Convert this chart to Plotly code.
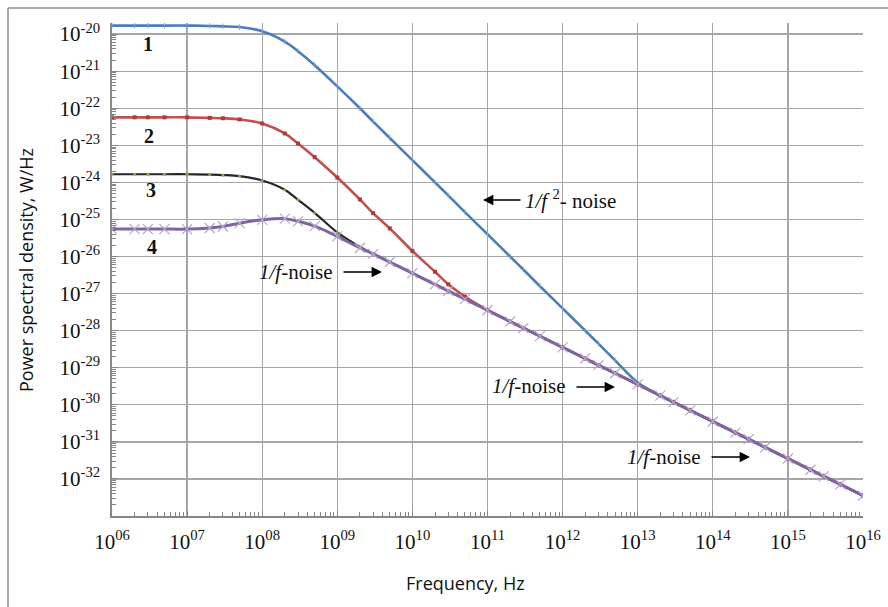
import plotly.graph_objects as go

# ---------------- data ----------------
freq = [1e6, 2e6, 3e6, 5e6, 1e7, 2e7, 3e7, 5e7, 1e8, 2e8, 3e8, 5e8,
        1e9, 2e9, 3e9, 5e9, 1e10, 2e10, 3e10, 5e10, 1e11, 2e11, 3e11, 5e11,
        1e12, 2e12, 3e12, 5e12, 1e13, 2e13, 3e13, 5e13, 1e14, 2e14, 3e14, 5e14,
        1e15, 2e15, 3e15, 5e15, 1e16]

psd1 = [1.70e-20, 1.70e-20, 1.70e-20, 1.70e-20, 1.70e-20, 1.66e-20, 1.62e-20, 1.55e-20,
        1.20e-20, 6.31e-21, 3.47e-21, 1.45e-21, 3.89e-22, 1.00e-22, 4.37e-23, 1.58e-23,
        3.98e-24, 1.00e-24, 4.47e-25, 1.58e-25, 3.98e-26, 1.00e-26, 4.47e-27, 1.58e-27,
        3.98e-28, 1.00e-28, 4.47e-29, 1.58e-29, 3.98e-30, 1.77e-30, 1.18e-30, 7.10e-31,
        3.55e-31, 1.77e-31, 1.18e-31, 7.10e-32, 3.55e-32, 1.77e-32, 1.18e-32, 7.10e-33,
        3.55e-33]

psd2 = [5.69e-23, 5.69e-23, 5.69e-23, 5.69e-23, 5.69e-23, 5.50e-23, 5.37e-23, 5.01e-23,
        3.89e-23, 2.09e-23, 1.12e-23, 4.79e-24, 1.35e-24, 3.47e-25, 1.48e-25, 5.75e-26,
        1.41e-26, 3.89e-27, 1.78e-27, 8.32e-28, 3.60e-28, 1.77e-28, 1.18e-28, 7.10e-29,
        3.55e-29, 1.77e-29, 1.18e-29, 7.10e-30, 3.55e-30, 1.77e-30, 1.18e-30, 7.10e-31,
        3.55e-31, 1.77e-31, 1.18e-31, 7.10e-32, 3.55e-32, 1.77e-32, 1.18e-32, 7.10e-33,
        3.55e-33]

psd3 = [1.66e-24, 1.66e-24, 1.66e-24, 1.66e-24, 1.66e-24, 1.62e-24, 1.58e-24, 1.48e-24,
        1.12e-24, 6.31e-25, 3.39e-25, 1.51e-25, 4.47e-26, 1.82e-26, 1.18e-26, 7.10e-27,
        3.55e-27, 1.77e-27, 1.18e-27, 7.10e-28, 3.55e-28, 1.77e-28, 1.18e-28, 7.10e-29,
        3.55e-29, 1.77e-29, 1.18e-29, 7.10e-30, 3.55e-30, 1.77e-30, 1.18e-30, 7.10e-31,
        3.55e-31, 1.77e-31, 1.18e-31, 7.10e-32, 3.55e-32, 1.77e-32, 1.18e-32, 7.10e-33,
        3.55e-33]

psd4 = [5.50e-26, 5.50e-26, 5.50e-26, 5.50e-26, 5.50e-26, 5.89e-26, 6.46e-26, 7.94e-26,
        9.77e-26, 1.05e-25, 8.91e-26, 6.61e-26, 3.50e-26, 1.70e-26, 1.18e-26, 7.10e-27,
        3.55e-27, 1.77e-27, 1.18e-27, 7.10e-28, 3.55e-28, 1.77e-28, 1.18e-28, 7.10e-29,
        3.55e-29, 1.77e-29, 1.18e-29, 7.10e-30, 3.55e-30, 1.77e-30, 1.18e-30, 7.10e-31,
        3.55e-31, 1.77e-31, 1.18e-31, 7.10e-32, 3.55e-32, 1.77e-32, 1.18e-32, 7.10e-33,
        3.55e-33]

x_tickvals = [1e6, 1e7, 1e8, 1e9, 1e10, 1e11, 1e12, 1e13, 1e14, 1e15, 1e16]
x_ticktext = ["10<sup>06</sup>", "10<sup>07</sup>", "10<sup>08</sup>", "10<sup>09</sup>",
              "10<sup>10</sup>", "10<sup>11</sup>", "10<sup>12</sup>", "10<sup>13</sup>",
              "10<sup>14</sup>", "10<sup>15</sup>", "10<sup>16</sup>"]
y_tickvals = [1e-32, 1e-31, 1e-30, 1e-29, 1e-28, 1e-27, 1e-26, 1e-25, 1e-24,
              1e-23, 1e-22, 1e-21, 1e-20]
y_ticktext = ["10<sup>-32</sup>", "10<sup>-31</sup>", "10<sup>-30</sup>", "10<sup>-29</sup>",
              "10<sup>-28</sup>", "10<sup>-27</sup>", "10<sup>-26</sup>", "10<sup>-25</sup>",
              "10<sup>-24</sup>", "10<sup>-23</sup>", "10<sup>-22</sup>", "10<sup>-21</sup>",
              "10<sup>-20</sup>"]

# ---------------- layout geometry ----------------
W, H = 888, 607
L, R, T, B = 112, 25, 23, 91
PW, PH = W - L - R, H - T - B


def px(xp):
    return (xp - L) / PW


def py(yp):
    return (H - B - yp) / PH


SERIF = "Liberation Serif, Times New Roman, serif"
SANS = "Open Sans, Arial, sans-serif"

fig = go.Figure()

fig.add_trace(go.Scatter(x=freq, y=psd1, mode="lines+markers", line_shape="spline",
                         line=dict(color="#4A7EBB", width=2.6),
                         marker=dict(symbol="line-ns", size=4, line=dict(color="#7FA6D6", width=1)),
                         showlegend=False))
fig.add_trace(go.Scatter(x=freq, y=psd2, mode="lines+markers", line_shape="spline",
                         line=dict(color="#C0504D", width=2.6),
                         marker=dict(symbol="square", size=4, color="#B03A37"),
                         showlegend=False))
fig.add_trace(go.Scatter(x=freq, y=psd3, mode="lines+markers", line_shape="spline",
                         line=dict(color="#262626", width=2.2),
                         marker=dict(symbol="circle", size=3, color="#8AA84E"),
                         showlegend=False))
fig.add_trace(go.Scatter(x=freq, y=psd4, mode="lines+markers", line_shape="spline",
                         line=dict(color="#8064A2", width=3),
                         marker=dict(symbol="x-thin", size=10, line=dict(color="#B7A5D2", width=1.2)),
                         showlegend=False))

fig.update_xaxes(type="log", range=[6, 16], tickmode="array", tickvals=x_tickvals,
                 ticktext=x_ticktext, showgrid=True, gridcolor="#A6A6A6", gridwidth=1.3,
                 showline=True, linecolor="#868686", linewidth=1.6, ticks="inside",
                 ticklen=5, tickcolor="#868686", zeroline=False, ticklabelstandoff=6,
                 automargin=False,
                 tickfont=dict(family=SERIF, size=21, color="#111111"),
                 minor=dict(tickvals=[m * 10 ** e for e in range(6, 16) for m in range(2, 10)],
                            ticks="inside", ticklen=4, tickcolor="#868686", showgrid=False))
fig.update_yaxes(type="log", range=[-33, -19.7], tickmode="array", tickvals=y_tickvals,
                 ticktext=y_ticktext, showgrid=True, gridcolor="#A6A6A6", gridwidth=1.3,
                 showline=True, linecolor="#868686", linewidth=1.6, ticks="inside",
                 ticklen=6, tickcolor="#868686", zeroline=False, ticklabelstandoff=6,
                 automargin=False,
                 tickfont=dict(family=SERIF, size=21, color="#111111"),
                 minor=dict(tickvals=[m * 10.0 ** e for e in range(-33, -20) for m in range(2, 10)],
                            ticks="inside", ticklen=4, tickcolor="#868686", showgrid=False))

annotations = []


def text_ann(text, xp, yp, xanchor="center", size=21, family=SERIF, angle=0):
    return dict(x=px(xp), y=py(yp), xref="paper", yref="paper", text=text,
                xanchor=xanchor, yanchor="middle", textangle=angle, showarrow=False,
                font=dict(family=family, size=size, color="#111111"))


# curve numbers
for label, xp, yp in [("1", 148, 44), ("2", 149, 136), ("3", 151, 190), ("4", 152, 247)]:
    annotations.append(text_ann("<b>%s</b>" % label, xp, yp, size=20))

# noise labels
annotations.append(text_ann("<i>1/f</i> <sup>2</sup>- noise", 523, 200, xanchor="left"))
annotations.append(text_ann("<i>1/f</i>-noise", 335, 272, xanchor="right"))
annotations.append(text_ann("<i>1/f</i>-noise", 568, 386, xanchor="right"))
annotations.append(text_ann("<i>1/f</i>-noise", 703, 457, xanchor="right"))

# arrows (head at x,y; tail offset ax,ay in pixels)
for hx, hy, dx in [(483, 200, 39), (382, 272, -40), (615, 387, -40), (750, 457, -40)]:
    annotations.append(dict(x=px(hx), y=py(hy), xref="paper", yref="paper", text="",
                            showarrow=True, arrowhead=2, arrowsize=1.6, arrowwidth=1.3,
                            arrowcolor="#000000", ax=dx, ay=0, standoff=0))

# axis titles
annotations.append(text_ann("Power spectral density, W/Hz", 26, 270, size=18, family=SANS, angle=-90))
annotations.append(text_ann("Frequency, Hz", 465, 583, size=18, family=SANS))

shapes = [
    dict(type="line", xref="paper", yref="paper", x0=px(8), y0=py(8), x1=px(W + 5), y1=py(8),
         line=dict(color="#8C8C8C", width=1.5)),
    dict(type="line", xref="paper", yref="paper", x0=px(8), y0=py(8), x1=px(8), y1=py(H + 5),
         line=dict(color="#8C8C8C", width=1.5)),
]

fig.update_layout(width=W, height=H, margin=dict(l=L, r=R, t=T, b=B, autoexpand=False),
                  paper_bgcolor="white", plot_bgcolor="white", hovermode=False,
                  annotations=annotations, shapes=shapes, showlegend=False)

fig.write_html("out.html", config={"displayModeBar": False, "staticPlot": True},
               post_script="document.body.style.margin='0';document.body.style.overflow='hidden';")
